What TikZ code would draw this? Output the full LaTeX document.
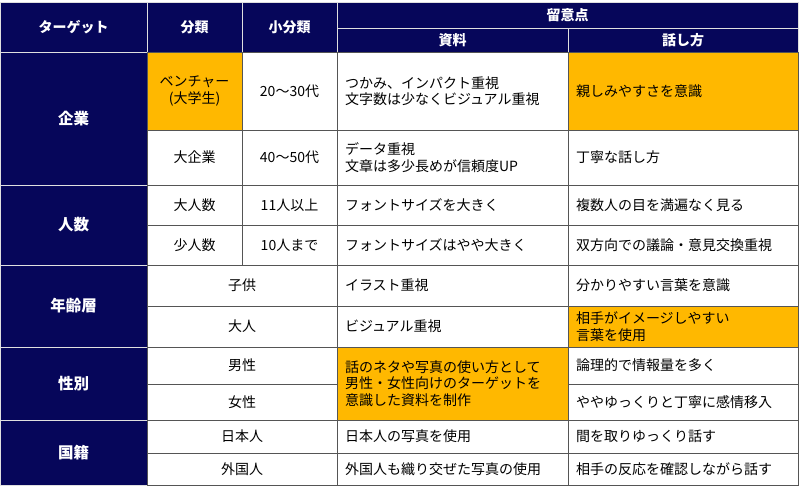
\documentclass[tikz,border=0pt]{standalone}
\usepackage{fontspec}
\setmainfont{Noto Sans CJK JP}
\definecolor{navy}{HTML}{06065A}
\definecolor{org}{HTML}{FFB800}
\definecolor{ln}{HTML}{555555}
\newcommand\mycell[7]{\node[#6,minimum width={(#4-#2)*1pt},minimum height={(#5-#3)*1pt}] (#1) at ({(#2+#4)/2},{(#3+#5)/2}) {};
\node[#6,draw=none,fill=none] at (#1) {#7};}
\newcommand\lcell[7]{\node[#6,minimum width={(#4-#2)*1pt},minimum height={(#5-#3)*1pt}] (#1) at ({(#2+#4)/2},{(#3+#5)/2}) {};
\node[#6,draw=none,fill=none,anchor=west,align=left,inner xsep=0pt] at ([xshift=8pt]#1.west) {#7};}
\begin{document}
\begin{tikzpicture}[x=1pt,y=-1pt,
 hd/.style={draw=white!75!gray,fill=navy,text=white,font=\fontsize{14}{16}\selectfont\bfseries,inner sep=0pt,line width=0.8pt},
 gp/.style={draw=white!75!gray,fill=navy,text=white,font=\fontsize{15.5}{18}\selectfont\bfseries,inner sep=0pt,line width=0.8pt},
 bd/.style={draw=ln,fill=white,font=\fontsize{14}{16.5}\selectfont,inner sep=0pt,line width=0.8pt,align=center},
 ob/.style={bd,fill=org}]
\useasboundingbox (0,0) rectangle (800,489);
\mycell{h1}{0}{2}{147}{52}{hd}{ターゲット}
\mycell{h2}{147}{2}{242}{52}{hd}{分類}
\mycell{h3}{242}{2}{337}{52}{hd}{小分類}
\mycell{h4}{337}{2}{798}{28}{hd}{留意点}
\mycell{h5}{337}{28}{568}{52}{hd}{資料}
\mycell{h6}{568}{28}{798}{52}{hd}{話し方}
% groups
\mycell{g1}{0}{52}{147}{185}{gp}{企業}
\mycell{g2}{0}{185}{147}{265}{gp}{人数}
\mycell{g3}{0}{265}{147}{347}{gp}{年齢層}
\mycell{g4}{0}{347}{147}{420}{gp}{性別}
\mycell{g5}{0}{420}{147}{485}{gp}{国籍}
% rows
\mycell{a1}{147}{52}{242}{130}{ob}{ベンチャー\\(大学生)}
\mycell{b1}{242}{52}{337}{130}{bd}{20〜30代}
\lcell{c1}{337}{52}{568}{130}{bd}{つかみ、インパクト重視\\文字数は少なくビジュアル重視}
\lcell{d1}{568}{52}{798}{130}{ob}{親しみやすさを意識}
\mycell{a2}{147}{130}{242}{185}{bd}{大企業}
\mycell{b2}{242}{130}{337}{185}{bd}{40〜50代}
\lcell{c2}{337}{130}{568}{185}{bd}{データ重視\\文章は多少長めが信頼度UP}
\lcell{d2}{568}{130}{798}{185}{bd}{丁寧な話し方}
\mycell{a3}{147}{185}{242}{225}{bd}{大人数}
\mycell{b3}{242}{185}{337}{225}{bd}{11人以上}
\lcell{c3}{337}{185}{568}{225}{bd}{フォントサイズを大きく}
\lcell{d3}{568}{185}{798}{225}{bd}{複数人の目を満遍なく見る}
\mycell{a4}{147}{225}{242}{265}{bd}{少人数}
\mycell{b4}{242}{225}{337}{265}{bd}{10人まで}
\lcell{c4}{337}{225}{568}{265}{bd}{フォントサイズはやや大きく}
\lcell{d4}{568}{225}{798}{265}{bd}{双方向での議論・意見交換重視}
\mycell{a5}{147}{265}{337}{306}{bd}{子供}
\lcell{c5}{337}{265}{568}{306}{bd}{イラスト重視}
\lcell{d5}{568}{265}{798}{306}{bd}{分かりやすい言葉を意識}
\mycell{a6}{147}{306}{337}{347}{bd}{大人}
\lcell{c6}{337}{306}{568}{347}{bd}{ビジュアル重視}
\lcell{d6}{568}{306}{798}{347}{ob}{相手がイメージしやすい\\言葉を使用}
\mycell{a7}{147}{347}{337}{384}{bd}{男性}
\lcell{c7}{337}{347}{568}{420}{ob}{話のネタや写真の使い方として\\男性・女性向けのターゲットを\\意識した資料を制作}
\lcell{d7}{568}{347}{798}{384}{bd}{論理的で情報量を多く}
\mycell{a8}{147}{384}{337}{420}{bd}{女性}
\lcell{d8}{568}{384}{798}{420}{bd}{ややゆっくりと丁寧に感情移入}
\mycell{a9}{147}{420}{337}{453}{bd}{日本人}
\lcell{c9}{337}{420}{568}{453}{bd}{日本人の写真を使用}
\lcell{d9}{568}{420}{798}{453}{bd}{間を取りゆっくり話す}
\mycell{a10}{147}{453}{337}{485}{bd}{外国人}
\lcell{c10}{337}{453}{568}{485}{bd}{外国人も織り交ぜた写真の使用}
\lcell{d10}{568}{453}{798}{485}{bd}{相手の反応を確認しながら話す}
\end{tikzpicture}
\end{document}
